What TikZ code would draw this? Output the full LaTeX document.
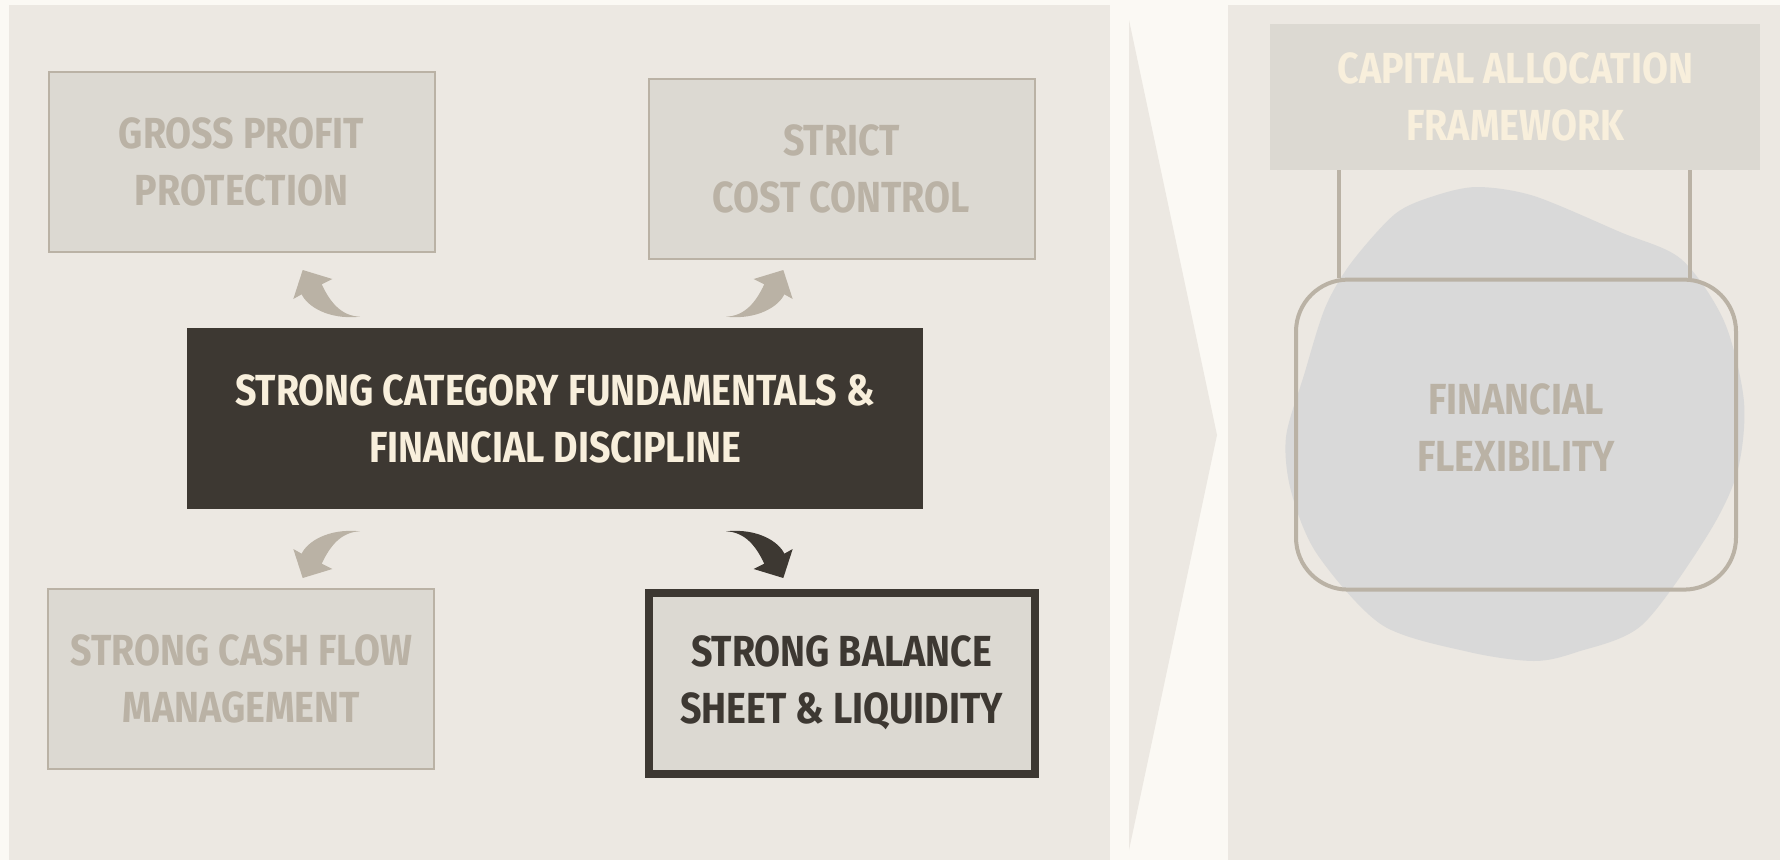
\documentclass[tikz,border=0pt]{standalone}
\usepackage{fontspec}
\newfontfamily\labelfont{Fira Sans}[FakeStretch=0.865]
\definecolor{pagecol}{HTML}{FBF9F4}
\definecolor{panelcol}{HTML}{ECE8E2}
\definecolor{boxcol}{HTML}{DCD9D2}
\definecolor{mutedcol}{HTML}{BAB2A5}
\definecolor{darkcol}{HTML}{3D3832}
\definecolor{creamcol}{HTML}{F8EFDC}
\definecolor{blobcol}{HTML}{D9D9D9}
\tikzset{
  lbl/.style={align=center, font=\labelfont\bfseries\fontsize{43.5}{57}\selectfont},
  softbox/.style={lbl, draw=mutedcol, line width=2pt, fill=boxcol, text=mutedcol,
    minimum width=386pt, minimum height=180pt},
  hubbox/.style={lbl, fill=darkcol, text=creamcol, minimum width=736pt, minimum height=181pt},
  keybox/.style={lbl, draw=darkcol, line width=8pt, fill=boxcol, text=darkcol,
    minimum width=386pt, minimum height=181pt},
  bend arrow/.pic={
    \fill (-183,-107.3) .. controls (-215,-104) and (-236,-118) .. (-241.3,-129.7)
      -- (-249.7,-125) -- (-240.3,-154) -- (-210.7,-145) -- (-221.3,-139.7)
      .. controls (-213,-122) and (-202,-108) .. (-183,-107.3) -- cycle;
  }
}
\begin{document}
\begin{tikzpicture}[x=1pt,y=-1pt]
\useasboundingbox (0,0) rectangle (1780,860);
\fill[pagecol] (0,0) rectangle (1780,860);
\fill[panelcol] (9,5) rectangle (1110,860);
\fill[panelcol] (1228,5) rectangle (1780,860);
\fill[panelcol] (1129,20) -- (1217,435) -- (1129,850) -- cycle;

\node[softbox] (gross) at (241.5,162) {GROSS PROFIT\\PROTECTION};
\node[softbox] (cost) at (841.5,169.3) {STRICT\\COST CONTROL};
\node[hubbox] (core) at (555,418.5) {STRONG CATEGORY FUNDAMENTALS \&\\FINANCIAL DISCIPLINE};
\node[softbox] (cash) at (241.4,679) {STRONG CASH FLOW\\MANAGEMENT};
\node[keybox] (balance) at (841.6,683) {STRONG BALANCE\\SHEET \& LIQUIDITY};

\coordinate (hub) at (543,424);
\pic[mutedcol] at (hub) {bend arrow};
\pic[mutedcol, xscale=-1] at (hub) {bend arrow};
\pic[mutedcol, yscale=-1] at (hub) {bend arrow};
\pic[darkcol, xscale=-1, yscale=-1] at (hub) {bend arrow};

\fill[blobcol] plot[smooth cycle] coordinates {
  (1477,187) (1534,196) (1620,232) (1681,259) (1724,321) (1744,402)
  (1737,473) (1707,536) (1642,625) (1577,652) (1534,661) (1469,652)
  (1382,625) (1317,554) (1291,491) (1286,437) (1304,375) (1325,308)
  (1351,263) (1395,214) (1434,196)};

\node[lbl, fill=boxcol, text=creamcol, minimum width=490pt, minimum height=146pt]
  (capital) at (1515.3,96.6) {CAPITAL ALLOCATION\\FRAMEWORK};
\node[draw=mutedcol, line width=4pt, rounded corners=52pt,
  minimum width=440pt, minimum height=310pt] (flex) at (1516,434.6) {};
\node[lbl, text=mutedcol] (flexlabel) at ([yshift=7pt]flex.center) {FINANCIAL\\FLEXIBILITY};
\draw[mutedcol, line width=4pt] ([xshift=45pt]flex.north west) -- ([xshift=45pt]flex.north west |- capital.south);
\draw[mutedcol, line width=4pt] ([xshift=-48pt]flex.north east) -- ([xshift=-48pt]flex.north east |- capital.south);
\end{tikzpicture}
\end{document}
